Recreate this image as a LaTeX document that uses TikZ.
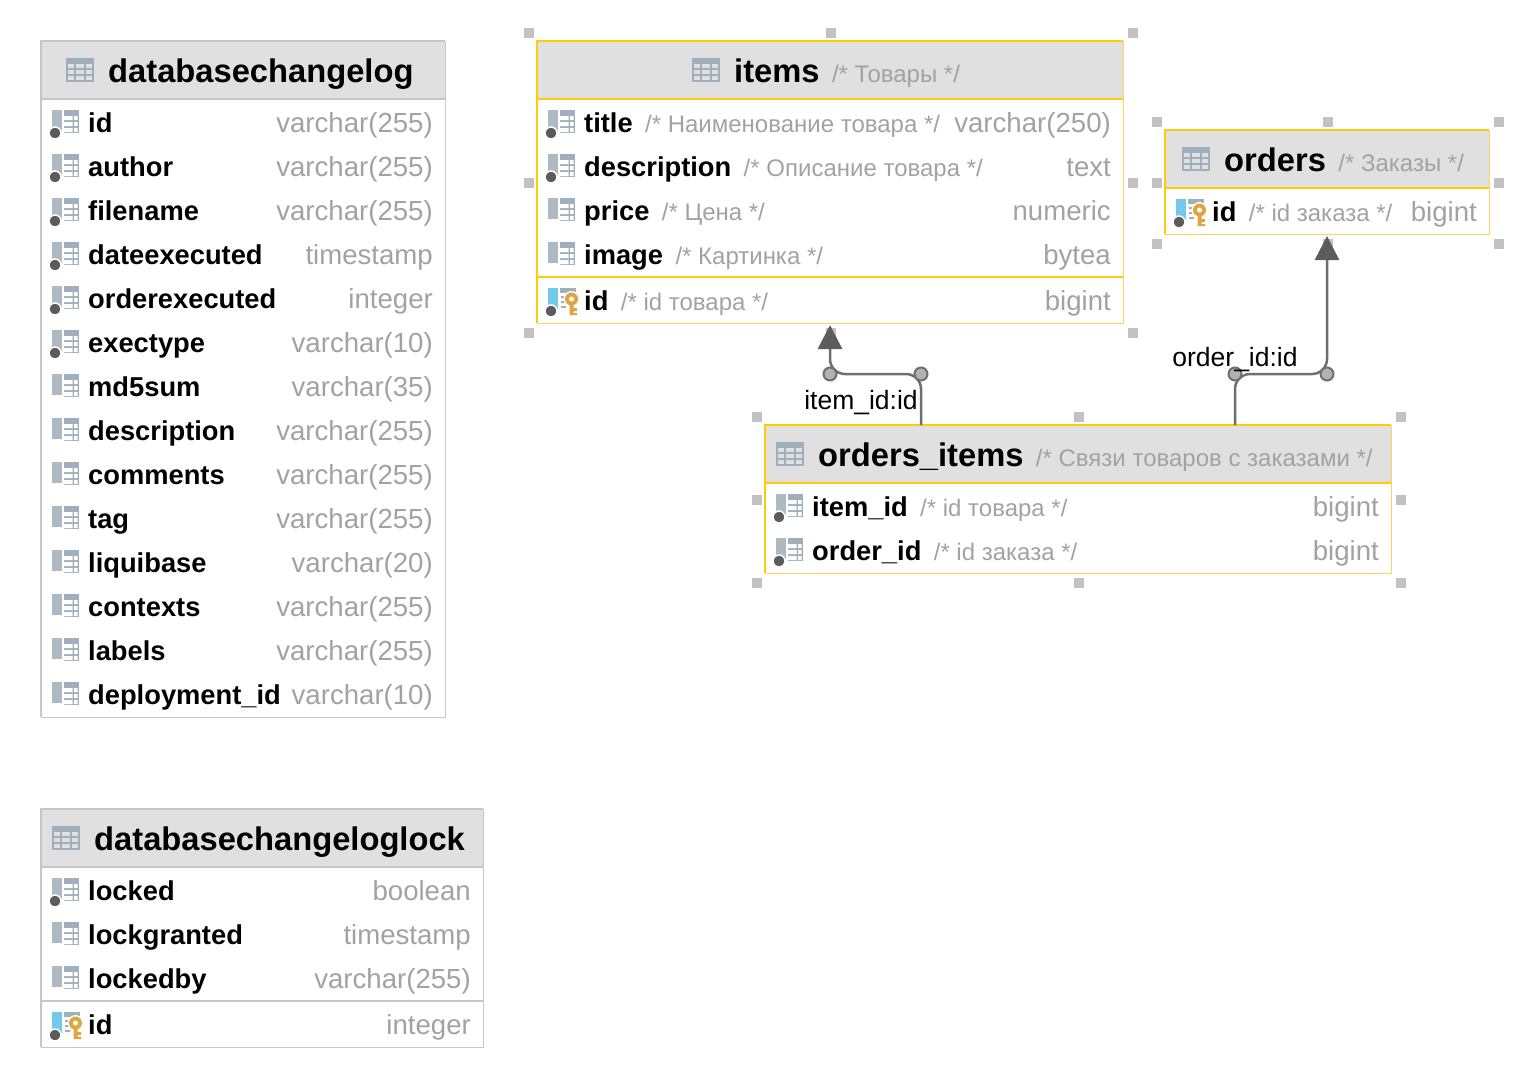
\documentclass[tikz,border=0pt]{standalone}
\usepackage{fontspec}
\setmainfont{Liberation Sans}
\usetikzlibrary{positioning}
\usetikzlibrary{fit}
\usetikzlibrary{arrows.meta}

\definecolor{headfill}{HTML}{E0E0E0}
\definecolor{plainline}{HTML}{C6C6C6}
\definecolor{selyellow}{HTML}{FFCC0A}
\definecolor{paleyellow}{HTML}{F6D75E}
\definecolor{handlegray}{HTML}{C2C2C2}
\definecolor{notegray}{HTML}{A2A2A2}
\definecolor{slate}{HTML}{9FB0BC}
\definecolor{barslate}{HTML}{AEBAC2}
\definecolor{keyblue}{HTML}{72C9EC}
\definecolor{keygold}{HTML}{DFA640}
\definecolor{dotgray}{HTML}{5C5C5C}
\definecolor{fkgray}{HTML}{6E6E6E}
\definecolor{jointfill}{HTML}{B2B2B2}

\tikzset{
    tablebox/.style={anchor=north west, inner sep=0, outer sep=0, draw=#1, line width=1pt},
    headbox/.style={anchor=north west, inner sep=0, outer sep=0, fill=headfill, minimum height=58pt},
    topline/.style={draw=#1, line width=2pt},
    titletext/.style={anchor=base west, inner sep=0, font=\bfseries\fontsize{32.7}{33}\selectfont},
    nametext/.style={anchor=base west, inner sep=0, font=\bfseries\fontsize{27.3}{28}\selectfont},
    typetext/.style={anchor=base east, inner sep=0, text=notegray, font=\fontsize{27.6}{28}\selectfont},
    notetext/.style={inner sep=0, text=notegray, font=\fontsize{24}{24}\selectfont},
    fklabel/.style={inner sep=0, font=\fontsize{26.5}{27}\selectfont},
    handle/.style={inner sep=0, outer sep=0, minimum size=10pt, fill=handlegray},
    joint/.style={circle, inner sep=0, minimum size=13pt, fill=jointfill, draw=fkgray, line width=2pt},
    fkline/.style={draw=fkgray, line width=2.5pt, rounded corners=15pt,
        -{Triangle[length=24pt,width=24pt,color=dotgray]}},
}

% icons, x y = left end of the icon, middle of the row
\newcommand{\colicon}[2]{
    \begin{scope}[shift={(#1)}]
        \fill[barslate] (0,-13) rectangle (10,8);
        \fill[slate] (12,-13) rectangle (27,10);
        \fill[white] (12,-7) rectangle (20.5,-3) (22,-7) rectangle (25.5,-3);
        \fill[white] (12,-1) rectangle (20.5,3) (22,-1) rectangle (25.5,3);
        \fill[white] (12,5) rectangle (20.5,9) (22,5) rectangle (25.5,9);
        \ifnum#2=1
            \fill[dotgray, draw=white, line width=1.5pt] (3,10) circle (6);
        \fi
    \end{scope}
}
\newcommand{\keyicon}[1]{
    \begin{scope}[shift={(#1)}]
        \fill[keyblue] (0,-13) rectangle (10,8);
        \fill[slate] (12,-13) rectangle (28,-8);
        \fill[slate] (13,-5) rectangle (18,-3) (13,0) rectangle (17,2) (13,5) rectangle (18,7);
        \fill[white] (23.5,-2) circle (8);
        \fill[keygold] (21.5,-2) rectangle (25.5,14) (25.5,7) rectangle (29,10) (25.5,12) rectangle (29,14);
        \fill[keygold] (23.5,-2) circle (6.5);
        \fill[white] (23.5,-2) circle (2.5);
        \fill[dotgray, draw=white, line width=1.5pt] (3,10) circle (6);
    \end{scope}
}
\newcommand{\tableicon}[1]{
    \begin{scope}[shift={(#1)}]
        \fill[slate] (0,-12) rectangle (28,12);
        \foreach \gy in {-6,0,6} {
            \fill[headfill] (2,\gy) rectangle ++(6,4);
            \fill[headfill] (10,\gy) rectangle ++(8,4);
            \fill[headfill] (20,\gy) rectangle ++(6,4);
        }
    \end{scope}
}

% table head: node, left of icon, title, note
\newcommand{\tablehead}[4]{
    \tableicon{[xshift=#2pt,yshift=-29pt]#1.north west}
    \node[titletext] (#1-title) at ([xshift=#2pt+42pt,yshift=-41pt]#1.north west) {#3};
    \node[notetext, base right=12pt of #1-title.base east] (#1-titlenote) {#4};
}
% column: node, row name, y of row, icon (0 plain, 1 with dot, 2 key), name, note, type
\newcommand{\colrow}[7]{
    \ifnum#4=2
        \keyicon{[xshift=11pt,yshift=-#3pt]#1.north west}
    \else
        \colicon{[xshift=11pt,yshift=-#3pt]#1.north west}{#4}
    \fi
    \node[nametext] (#1-#2) at ([xshift=47pt,yshift={-(#3+9.5)*1pt}]#1.north west) {#5};
    \node[notetext, base right=12pt of #1-#2.base east] (#1-#2-note) {#6};
    \node[typetext] (#1-#2-type) at ([xshift=-12pt,yshift={-(#3+9.5)*1pt}]#1.north east) {#7};
}

\begin{document}
\begin{tikzpicture}[x=1pt,y=-1pt]
        \useasboundingbox (0,0) rectangle (1530,1088);

        % Tables
        \node[tablebox=plainline, minimum width=404pt, minimum height=676pt] (changelog) at (41,41) {};
        \node[tablebox=plainline, minimum width=442pt, minimum height=238pt] (lock) at (41,809) {};
        \node[tablebox=paleyellow, minimum width=586pt, minimum height=282pt] (items) at (537,41) {};
        \node[tablebox=paleyellow, minimum width=324pt, minimum height=104pt] (orders) at (1165,130) {};
        \node[tablebox=paleyellow, minimum width=626pt, minimum height=148pt] (ordersitems) at (765,425) {};

        % Heads
        \foreach \t/\c/\w in {changelog/plainline/404,lock/plainline/442,items/selyellow/586,orders/selyellow/324,ordersitems/selyellow/626} {
            \node[headbox, minimum width=\w pt] (\t-head) at (\t.north west) {};
            \draw[topline=\c] (\t.south west) -- (\t.north west) -- (\t.north east);
            \draw[topline=\c] (\t-head.south west) -- (\t-head.south east);
        }
        \draw[topline=plainline] ([yshift=-192pt]lock.north west) -- ([yshift=-192pt]lock.north east);
        \draw[topline=selyellow] ([yshift=-236pt]items.north west) -- ([yshift=-236pt]items.north east);

        \tablehead{changelog}{25}{databasechangelog}{}
        \tablehead{lock}{11}{databasechangeloglock}{}
        \tablehead{items}{155}{items}{/* Товары */}
        \tablehead{orders}{17}{orders}{/* Заказы */}
        \tablehead{ordersitems}{11}{orders\_items}{/* Связи товаров с заказами */}

        % Columns
        \foreach \cname/\ctype/\cdot [count=\i from 0] in {id/varchar(255)/1,author/varchar(255)/1,filename/varchar(255)/1,dateexecuted/timestamp/1,orderexecuted/integer/1,exectype/varchar(10)/1,md5sum/varchar(35)/0,description/varchar(255)/0,comments/varchar(255)/0,tag/varchar(255)/0,liquibase/varchar(20)/0,contexts/varchar(255)/0,labels/varchar(255)/0,deployment\_id/varchar(10)/0} {
            \pgfmathtruncatemacro\rowy{82+44*\i}
            \colrow{changelog}{c\i}{\rowy}{\cdot}{\cname}{}{\ctype}
        }
        \colrow{lock}{locked}{82}{1}{locked}{}{boolean}
        \colrow{lock}{granted}{126}{0}{lockgranted}{}{timestamp}
        \colrow{lock}{by}{170}{0}{lockedby}{}{varchar(255)}
        \colrow{lock}{id}{216}{2}{id}{}{integer}

        \colrow{items}{title}{82}{1}{title}{/* Наименование товара */}{varchar(250)}
        \colrow{items}{descr}{126}{1}{description}{/* Описание товара */}{text}
        \colrow{items}{price}{170}{0}{price}{/* Цена */}{numeric}
        \colrow{items}{image}{214}{0}{image}{/* Картинка */}{bytea}
        \colrow{items}{id}{260}{2}{id}{/* id товара */}{bigint}

        \colrow{orders}{id}{82}{2}{id}{/* id заказа */}{bigint}

        \colrow{ordersitems}{item}{82}{1}{item\_id}{/* id товара */}{bigint}
        \colrow{ordersitems}{order}{126}{1}{order\_id}{/* id заказа */}{bigint}

        % Handles
        \foreach \t in {items,orders,ordersitems} {
            \node[inner sep=9pt, outer sep=0, fit=(\t)] (\t-sel) {};
            \foreach \a [count=\n] in {north west,north,north east,west,east,south west,south,south east} {
                \node[handle] (\t-h\n) at ([xshift=1pt,yshift=-1pt]\t-sel.\a) {};
            }
        }

        % Links
        \coordinate (itemfrom) at ([xshift=156pt]ordersitems.north west);
        \coordinate (orderfrom) at ([xshift=470pt]ordersitems.north west);
        \coordinate (itemnear) at (921,374);
        \coordinate (itemfar) at (830,374);
        \coordinate (ordernear) at (1235,374);
        \coordinate (orderfar) at (1327,374);
        \draw[fkline] (itemfrom) -- (itemnear) -- (itemfar) -- ([yshift=-2pt]items.south);
        \draw[fkline] (orderfrom) -- (ordernear) -- (orderfar) -- ([yshift=-2pt]orders.south);
        \foreach \j in {itemnear,itemfar,ordernear,orderfar} {
            \node[joint] (\j-dot) at (\j) {};
        }
        \node[fklabel] (itemlabel) at (861,402.5) {item\_id:id};
        \node[fklabel] (orderlabel) at (1235,360) {order\_id:id};
    \end{tikzpicture}
\end{document}
